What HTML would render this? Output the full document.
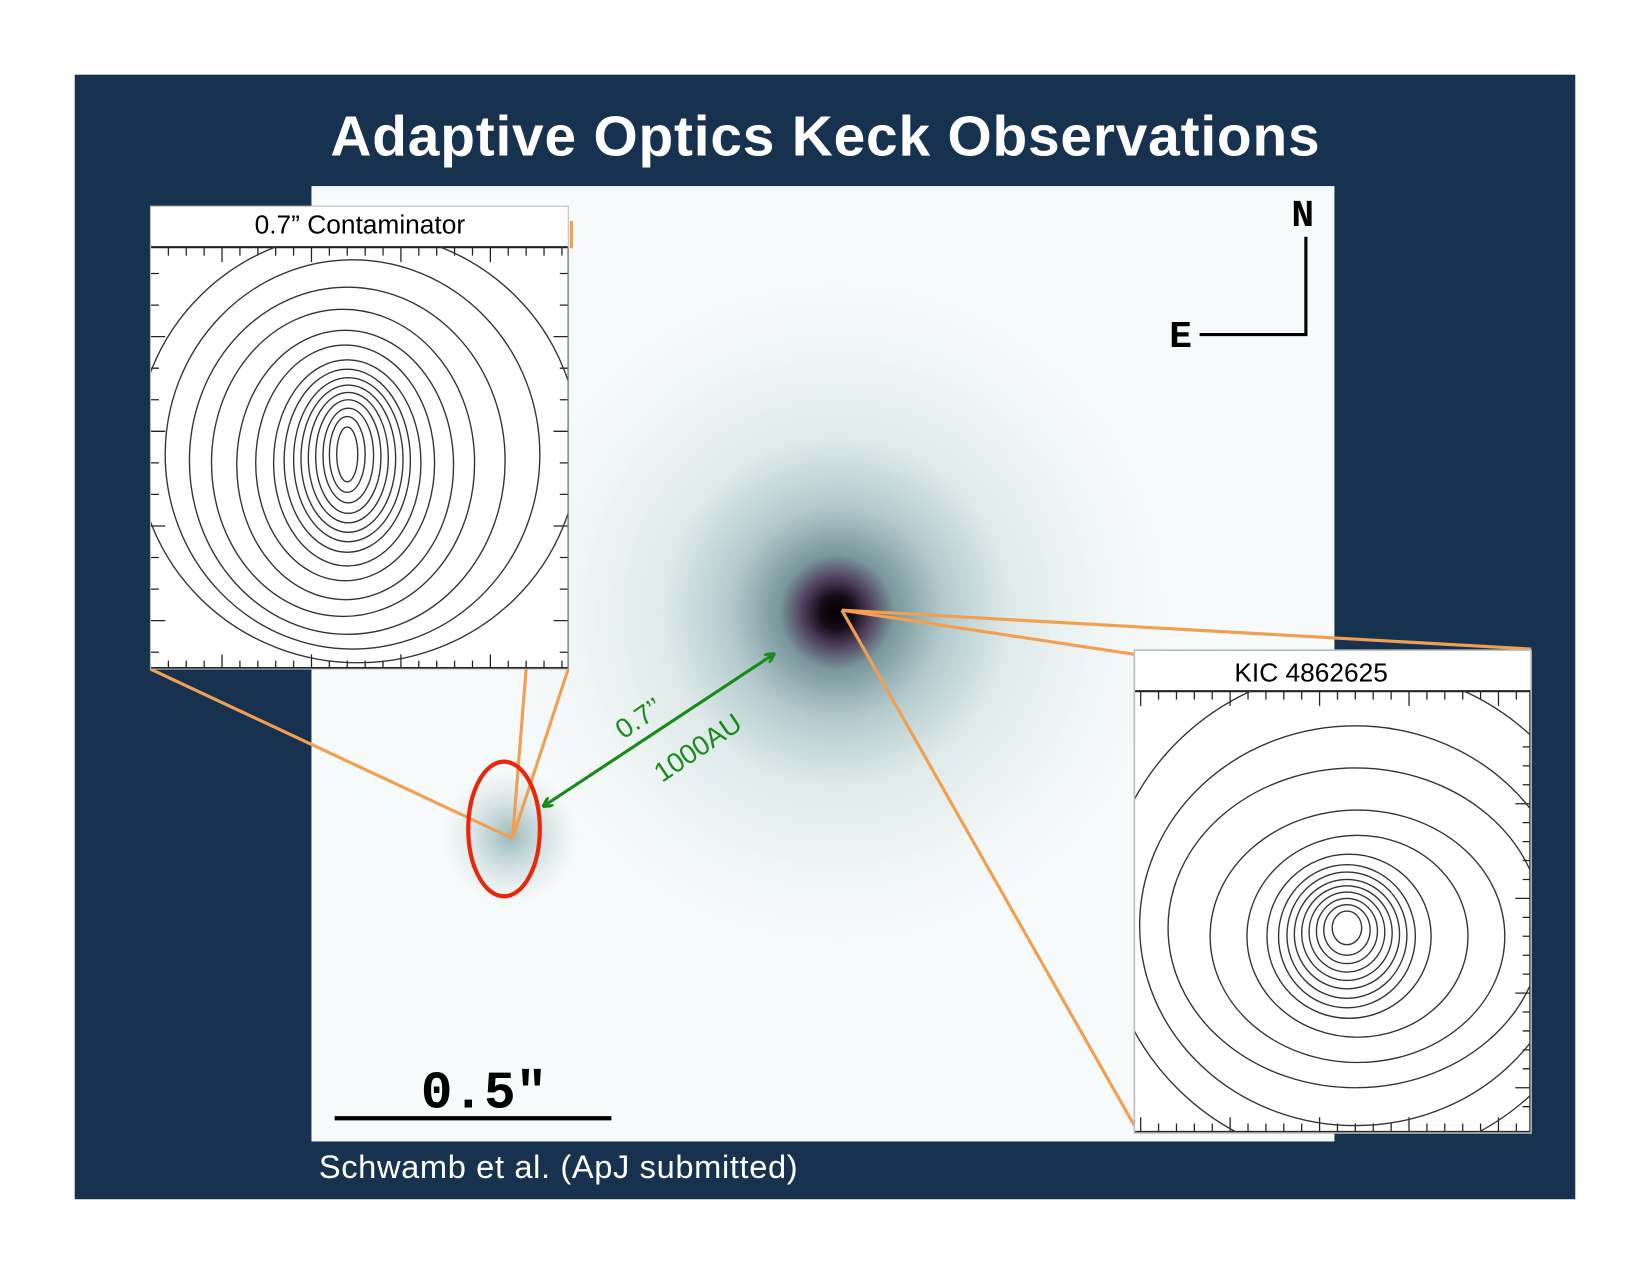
<!DOCTYPE html>
<html><head><meta charset="utf-8"><style>html,body{margin:0;padding:0;background:#fff}svg{display:block}</style></head>
<body>
<svg width="1650" height="1275" viewBox="0 0 1568 1212" preserveAspectRatio="none" xmlns="http://www.w3.org/2000/svg">
<defs>
<radialGradient id="star" cx="795" cy="582" r="320" gradientUnits="userSpaceOnUse">
<stop offset="0" stop-color="#000"/>
<stop offset="0.05" stop-color="#140c18"/>
<stop offset="0.1" stop-color="#4e3e5c"/>
<stop offset="0.17" stop-color="#7a979c"/>
<stop offset="0.32" stop-color="#b4cbcd"/>
<stop offset="0.52" stop-color="#dfeaea"/>
<stop offset="0.78" stop-color="#f1f6f6"/>
<stop offset="1" stop-color="#f7fafa"/>
</radialGradient>
<radialGradient id="cont" cx="485" cy="795" r="65" gradientUnits="userSpaceOnUse">
<stop offset="0" stop-color="#8fb0b4" stop-opacity="0.9"/>
<stop offset="1" stop-color="#c9dadb" stop-opacity="0"/>
</radialGradient>
<clipPath id="cl"><rect x="143" y="235" width="397" height="401"/></clipPath>
<clipPath id="cr"><rect x="1078" y="657" width="377" height="420"/></clipPath>
<marker id="ah" markerWidth="10" markerHeight="10" refX="8" refY="5" orient="auto-start-reverse" markerUnits="userSpaceOnUse"><path d="M0,0 L9,5 L0,10" fill="none" stroke="#1a8a1a" stroke-width="3"/></marker>
</defs>
<rect x="71" y="71" width="1426" height="1069" fill="#16324f"/>
<text x="784" y="148" text-anchor="middle" font-family="Liberation Sans, sans-serif" font-weight="bold" font-size="54" fill="#fff" textLength="940">Adaptive Optics Keck Observations</text>
<rect x="296" y="177" width="972" height="908" fill="#f7fafa"/>
<rect x="296" y="177" width="972" height="908" fill="url(#star)"/>
<ellipse cx="485" cy="795" rx="65" ry="65" fill="url(#cont)"/>
<text x="1238" y="215" text-anchor="middle" font-family="Liberation Mono, monospace" font-weight="bold" font-size="36">N</text>
<text x="1122" y="330" text-anchor="middle" font-family="Liberation Mono, monospace" font-weight="bold" font-size="36">E</text>
<path d="M1241 225 V318 H1140" fill="none" stroke="#000" stroke-width="3"/>
<text x="460" y="1053" text-anchor="middle" font-family="Liberation Mono, monospace" font-weight="bold" font-size="50">0.5"</text>
<line x1="318" y1="1063" x2="581" y2="1063" stroke="#000" stroke-width="4"/>
<text x="303" y="1120" font-family="Liberation Sans, sans-serif" font-size="31" fill="#fff" textLength="455">Schwamb et al. (ApJ submitted)</text>
<g stroke="#f0a050" stroke-width="3" fill="none">
<line x1="487" y1="797" x2="143" y2="636"/>
<line x1="487" y1="797" x2="500" y2="636"/>
<line x1="487" y1="797" x2="540" y2="636"/>
<line x1="543" y1="210" x2="543" y2="236"/>
<line x1="800" y1="580" x2="1455" y2="617"/>
<line x1="800" y1="580" x2="1078" y2="622"/>
<line x1="800" y1="580" x2="1078" y2="1070"/>
</g>
<ellipse cx="479" cy="788" rx="34" ry="64" fill="none" stroke="#e8280a" stroke-width="4"/>
<line x1="517" y1="766" x2="735" y2="622" stroke="#1a8a1a" stroke-width="3" marker-start="url(#ah)" marker-end="url(#ah)"/>
<text transform="translate(612,690) rotate(-34)" text-anchor="middle" font-family="Liberation Sans, sans-serif" font-size="26" fill="#1a8a1a">0.7’’</text>
<text transform="translate(668,718) rotate(-34)" text-anchor="middle" font-family="Liberation Sans, sans-serif" font-size="26" fill="#1a8a1a">1000AU</text>
<rect x="143" y="196" width="397" height="440" fill="#fff"/>
<text x="342" y="222" text-anchor="middle" font-family="Liberation Sans, sans-serif" font-size="25">0.7” Contaminator</text>
<line x1="143" y1="235" x2="540" y2="235" stroke="#222" stroke-width="2"/>
<line x1="143" y1="635" x2="540" y2="635" stroke="#222" stroke-width="2"/>
<line x1="540" y1="235" x2="540" y2="636" stroke="#222" stroke-width="1.5"/>
<g stroke="#222" stroke-width="1.2">
<path d="M160 235v8M177 235v8M194 235v8M211 235v14M228 235v8M245 235v8M262 235v8M279 235v8M296 235v14M313 235v8M330 235v8M347 235v8M364 235v8M381 235v14M398 235v8M415 235v8M432 235v8M449 235v8M466 235v14M483 235v8M500 235v8M517 235v8M534 235v8"/>
<path d="M160 636v-8M177 636v-8M194 636v-8M211 636v-14M228 636v-8M245 636v-8M262 636v-8M279 636v-8M296 636v-14M313 636v-8M330 636v-8M347 636v-8M364 636v-8M381 636v-14M398 636v-8M415 636v-8M432 636v-8M449 636v-8M466 636v-14M483 636v-8M500 636v-8M517 636v-8M534 636v-8"/>
<path d="M540 260h-8M540 290h-8M540 320h-14M540 350h-8M540 380h-8M540 410h-14M540 440h-8M540 470h-8M540 500h-14M540 530h-8M540 560h-8M540 590h-14M540 620h-8"/>
<path d="M143 260h8M143 290h8M143 320h14M143 350h8M143 380h8M143 410h14M143 440h8M143 470h8M143 500h14M143 530h8M143 560h8M143 590h14M143 620h8"/>
</g>
<g clip-path="url(#cl)" fill="none" stroke="#333" stroke-width="1.3">
<ellipse cx="330" cy="432" rx="10" ry="26"/>
<ellipse cx="330" cy="432" rx="17" ry="36"/>
<ellipse cx="331" cy="433" rx="24" ry="45"/>
<ellipse cx="331" cy="434" rx="31" ry="54"/>
<ellipse cx="331" cy="435" rx="38" ry="62"/>
<ellipse cx="331" cy="436" rx="45" ry="70"/>
<ellipse cx="331" cy="437" rx="52" ry="78"/>
<ellipse cx="330" cy="438" rx="60" ry="87"/>
<ellipse cx="330" cy="440" rx="70" ry="98"/>
<ellipse cx="328" cy="440" rx="85" ry="112"/>
<ellipse cx="328" cy="442" rx="103" ry="128"/>
<ellipse cx="326" cy="440" rx="125" ry="146"/>
<ellipse cx="330" cy="438" rx="150" ry="165"/>
<ellipse cx="335" cy="432" rx="178" ry="185"/>
<ellipse cx="340" cy="425" rx="210" ry="205"/>
</g>
<rect x="143" y="196" width="397" height="440" fill="none" stroke="#bbb" stroke-width="1"/>
<rect x="1078" y="618" width="377" height="459" fill="#fff"/>
<text x="1246" y="648" text-anchor="middle" font-family="Liberation Sans, sans-serif" font-size="25">KIC 4862625</text>
<line x1="1078" y1="657" x2="1455" y2="657" stroke="#222" stroke-width="2"/>
<line x1="1078" y1="1076" x2="1455" y2="1076" stroke="#222" stroke-width="2"/>
<line x1="1454" y1="657" x2="1454" y2="1077" stroke="#222" stroke-width="1.5"/>
<g stroke="#222" stroke-width="1.2">
<path d="M1084 657v14M1101 657v8M1118 657v8M1135 657v8M1152 657v8M1169 657v14M1186 657v8M1203 657v8M1220 657v8M1237 657v8M1254 657v14M1271 657v8M1288 657v8M1305 657v8M1322 657v8M1339 657v14M1356 657v8M1373 657v8M1390 657v8M1407 657v8M1424 657v14M1441 657v8"/>
<path d="M1084 1076v-14M1101 1076v-8M1118 1076v-8M1135 1076v-8M1152 1076v-8M1169 1076v-14M1186 1076v-8M1203 1076v-8M1220 1076v-8M1237 1076v-8M1254 1076v-14M1271 1076v-8M1288 1076v-8M1305 1076v-8M1322 1076v-8M1339 1076v-14M1356 1076v-8M1373 1076v-8M1390 1076v-8M1407 1076v-8M1424 1076v-14M1441 1076v-8"/>
<path d="M1454 710h-7M1454 728h-7M1454 746h-7M1454 764h-14M1454 782h-7M1454 800h-7M1454 818h-7M1454 836h-7M1454 854h-14M1454 872h-7M1454 890h-7M1454 908h-7M1454 926h-7M1454 944h-14M1454 962h-7M1454 980h-7M1454 998h-7M1454 1016h-7M1454 1034h-14M1454 1052h-7"/>
</g>
<g clip-path="url(#cr)" fill="none" stroke="#333" stroke-width="1.3">
<ellipse cx="1280" cy="882" rx="14" ry="16"/>
<ellipse cx="1280" cy="884" rx="22" ry="24"/>
<ellipse cx="1280" cy="885" rx="29" ry="31"/>
<ellipse cx="1280" cy="886" rx="36" ry="38"/>
<ellipse cx="1280" cy="887" rx="43" ry="45"/>
<ellipse cx="1280" cy="888" rx="50" ry="52"/>
<ellipse cx="1280" cy="889" rx="57" ry="60"/>
<ellipse cx="1280" cy="890" rx="65" ry="68"/>
<ellipse cx="1282" cy="890" rx="78" ry="78"/>
<ellipse cx="1290" cy="890" rx="105" ry="96"/>
<ellipse cx="1290" cy="890" rx="140" ry="120"/>
<ellipse cx="1288" cy="882" rx="178" ry="152"/>
<ellipse cx="1288" cy="880" rx="205" ry="190"/>
<ellipse cx="1290" cy="870" rx="240" ry="235"/>
</g>
<rect x="1078" y="618" width="377" height="459" fill="none" stroke="#bbb" stroke-width="1.5"/>
</svg>
</body></html>
